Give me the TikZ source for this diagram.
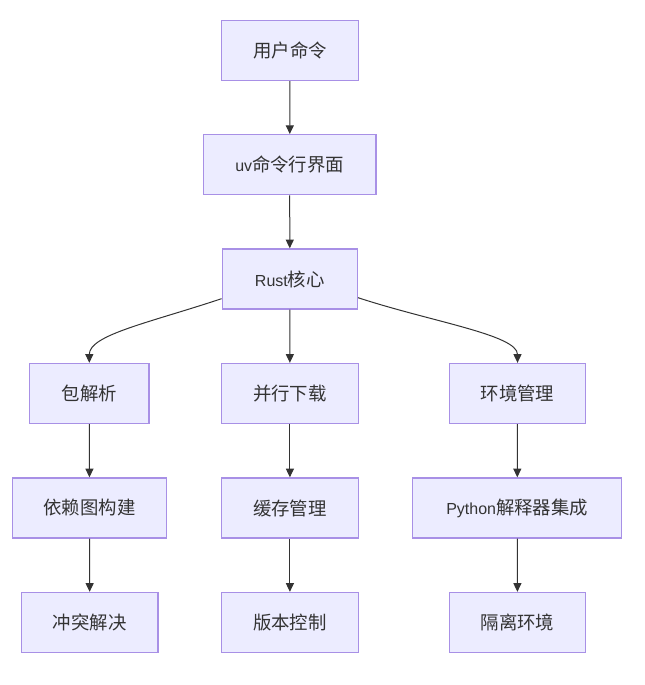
\documentclass[tikz,border=0pt]{standalone}
\usepackage{fontspec}
\setmainfont{Liberation Sans}
\newfontfamily\cjk{Noto Sans CJK SC}[Scale=1.15]
\usetikzlibrary{arrows.meta}
\definecolor{boxfill}{HTML}{ECECFF}
\definecolor{boxline}{HTML}{A890E6}
\definecolor{arrowcol}{HTML}{333333}
\definecolor{textcol}{HTML}{333333}
\tikzset{
  box/.style={draw=boxline, line width=1pt, fill=boxfill, rectangle,
    minimum height=45pt, inner sep=0pt, text=textcol,
    font=\fontsize{12pt}{14pt}\selectfont},
  arr/.style={draw=arrowcol, line width=0.75pt,
    -{Triangle[length=6.5pt,width=6pt]}}
}
\begin{document}
\begin{tikzpicture}[x=0.75pt,y=-0.75pt]
\useasboundingbox (0,0) rectangle (645,685);
% row 1-3
\node[box, minimum width=102.75pt] (a) at (290,50.5) {{\cjk 用户命令}};
\node[box, minimum width=129.5pt] (b) at (289.7,164.7) {uv{\cjk 命令行界面}};
\node[box, minimum width=101.25pt] (c) at (289.8,279) {Rust{\cjk 核心}};
% row 4
\node[box, minimum width=89.5pt] (d) at (89.3,393.5) {{\cjk 包解析}};
\node[box, minimum width=102.75pt] (e) at (289.9,393.5) {{\cjk 并行下载}};
\node[box, minimum width=102pt] (f) at (517.5,393.5) {{\cjk 环境管理}};
% row 5
\node[box, minimum width=115.8pt] (g) at (89.5,508) {{\cjk 依赖图构建}};
\node[box, minimum width=102.75pt] (h) at (289.9,508) {{\cjk 缓存管理}};
\node[box, minimum width=156.75pt] (i) at (517.2,508) {Python{\cjk 解释器集成}};
% row 6
\node[box, minimum width=102.5pt] (j) at (89.7,622.5) {{\cjk 冲突解决}};
\node[box, minimum width=102.75pt] (k) at (289.9,622.5) {{\cjk 版本控制}};
\node[box, minimum width=102pt] (l) at (517.5,622.5) {{\cjk 隔离环境}};
% connectors
\draw[arr] (a) -- (b);
\draw[arr] (b) -- (c);
\draw[arr] (c) -- (e);
\draw[arr] ([yshift=8.25pt]c.south west) .. controls +(-72,24) and ([yshift=21pt]d.north) .. (d.north);
\draw[arr] ([yshift=9pt]c.south east) .. controls +(73,24) and ([yshift=21pt]f.north) .. (f.north);
\draw[arr] (d) -- (g);
\draw[arr] (g) -- (j);
\draw[arr] (e) -- (h);
\draw[arr] (h) -- (k);
\draw[arr] (f) -- (i);
\draw[arr] (i) -- (l);
\end{tikzpicture}
\end{document}
